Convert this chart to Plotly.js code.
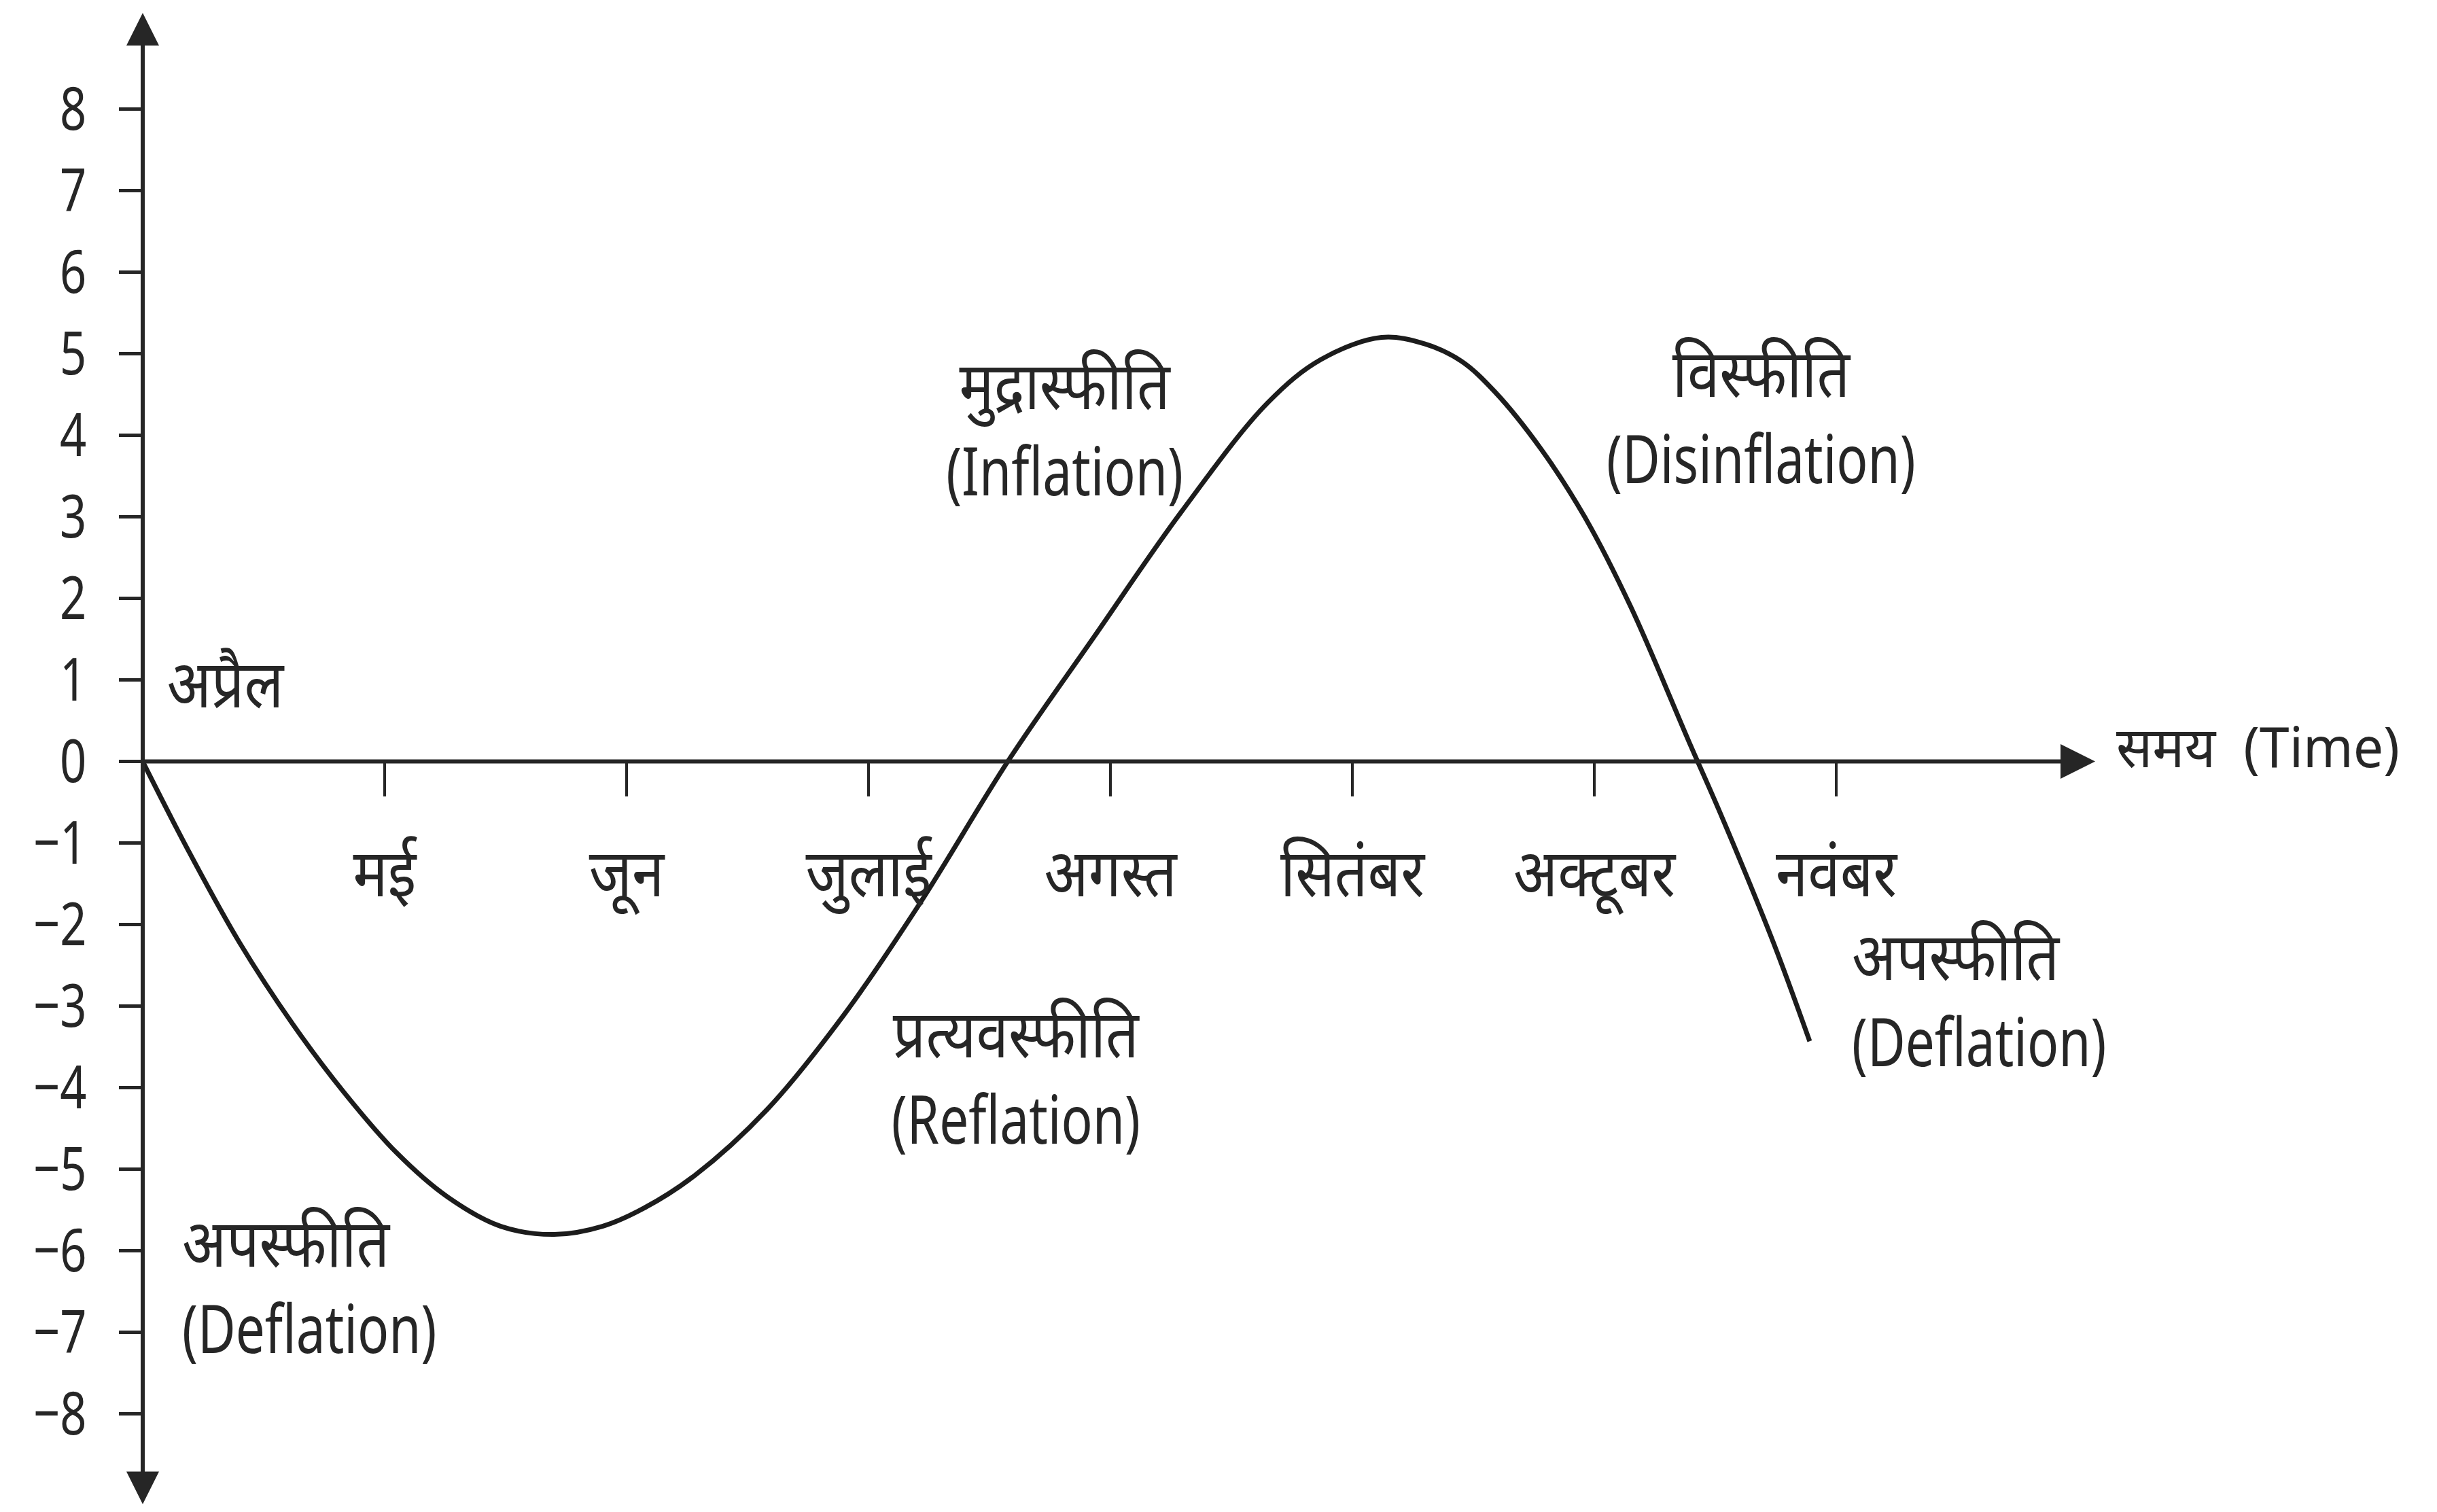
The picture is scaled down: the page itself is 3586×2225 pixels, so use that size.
<!DOCTYPE html>
<html>
<head>
<meta charset="utf-8">
<script src="https://cdn.plot.ly/plotly-3.0.1.min.js"></script>
<style>
  html, body { margin: 0; padding: 0; background: #ffffff; }
  #chart { width: 3586px; height: 2225px; }
</style>
</head>
<body>
<div id="chart"></div>
<script>
// ---- data ----
// x position in months counted from April (0 = अप्रैल, 1 = मई, ...)
const monthNames = ['मई', 'जून', 'जुलाई', 'अगस्त', 'सितंबर', 'अक्टूबर', 'नवंबर'];
const monthTicks = [1, 2, 3, 4, 5, 6, 7];
const curveMonths = [0, 0.19, 0.40, 0.62, 0.83, 1.05, 1.26, 1.48, 1.70, 1.90, 2.07, 2.28, 2.58, 2.90, 3.21, 3.58, 3.93, 4.29, 4.65, 4.87, 5.12, 5.30, 5.45, 5.59, 5.78, 5.96, 6.15, 6.39, 6.53, 6.74, 6.89];
const curveValues = [0, -1.10, -2.22, -3.22, -4.05, -4.80, -5.34, -5.70, -5.80, -5.70, -5.48, -5.08, -4.27, -3.10, -1.75, 0.02, 1.52, 3.05, 4.40, 4.93, 5.20, 5.12, 4.91, 4.53, 3.83, 3.00, 1.90, 0.25, -0.70, -2.22, -3.43];
const yTickValues = [-8, -7, -6, -5, -4, -3, -2, -1, 0, 1, 2, 3, 4, 5, 6, 7, 8];
const startLabel = 'अप्रैल';
const axisLabel = 'समय  (Time)';
const phaseHindi = ['अपस्फीति', 'प्रत्यवस्फीति', 'मुद्रास्फीति', 'विस्फीति', 'अपस्फीति'];
const phaseEnglish = ['(Deflation)', '(Reflation)', '(Inflation)', '(Disinflation)', '(Deflation)'];

// ---- layout constants ----
const xMax = 8.07;
const yMin = -9.12, yMax = 9.18;
const FONT = '"Noto Sans", "Noto Sans Devanagari", sans-serif';
const INK = '#262626';

const trace = {
  x: curveMonths,
  y: curveValues,
  type: 'scatter',
  mode: 'lines',
  line: { color: '#1c1c1c', width: 7, shape: 'spline', smoothing: 1 },
  hoverinfo: 'skip',
  showlegend: false
};

function phase(i, x, y, align, xanchor) {
  return {
    x: x, y: y, xref: 'x', yref: 'y',
    text: phaseHindi[i] + '<br>' + phaseEnglish[i],
    showarrow: false, align: align, xanchor: xanchor, yanchor: 'middle',
    font: { family: FONT, size: 98, color: INK }
  };
}

const annotations = [
  // y axis with arrows at both ends
  { x: 0, y: yMax, ax: 0, ay: yMin, xref: 'x', yref: 'y', axref: 'x', ayref: 'y',
    text: '', showarrow: true, arrowhead: 2, arrowside: 'end+start', arrowsize: 1.6,
    arrowwidth: 6, arrowcolor: INK, standoff: 0, startstandoff: 0 },
  // x axis with arrow
  { x: xMax, y: 0, ax: 0, ay: 0, xref: 'x', yref: 'y', axref: 'x', ayref: 'y',
    text: '', showarrow: true, arrowhead: 2, arrowside: 'end', arrowsize: 1.7,
    arrowwidth: 6, arrowcolor: INK, standoff: 0, startstandoff: 0 },
  { x: 0.06, y: 0.98, xref: 'x', yref: 'y', text: startLabel, showarrow: false,
    xanchor: 'left', yanchor: 'middle', font: { family: FONT, size: 98, color: INK } },
  { x: 8.12 / xMax, y: 0.2, xref: 'paper', yref: 'y', text: axisLabel, showarrow: false,
    xanchor: 'left', yanchor: 'middle', font: { family: FONT, size: 83, color: INK } },
  phase(0, 0.157, -6.41, 'left', 'left'),
  phase(1, 3.61, -3.84, 'center', 'center'),
  phase(2, 3.81, 4.11, 'center', 'center'),
  phase(3, 6.69, 4.26, 'center', 'center'),
  phase(4, 7.06, -2.89, 'left', 'left')
];

const layout = {
  width: 3586, height: 2225,
  margin: { l: 210, r: 503, t: 19, b: 10 },
  paper_bgcolor: '#ffffff', plot_bgcolor: '#ffffff',
  showlegend: false,
  xaxis: {
    range: [0, xMax], anchor: 'free', position: (0 - yMin) / (yMax - yMin),
    showline: false, showgrid: false, zeroline: false,
    tickmode: 'array', tickvals: monthTicks, ticktext: monthNames,
    ticks: 'outside', ticklen: 50, tickwidth: 4, tickcolor: INK,
    ticklabelstandoff: 30,
    tickfont: { family: FONT, size: 98, color: INK },
    fixedrange: true
  },
  yaxis: {
    range: [yMin, yMax],
    showline: false, showgrid: false, zeroline: false,
    tickmode: 'array', tickvals: yTickValues,
    ticks: 'outside', ticklen: 34, tickwidth: 5, tickcolor: INK,
    ticklabelstandoff: 30,
    tickfont: { family: FONT, size: 88, color: INK },
    fixedrange: true
  },
  annotations: annotations
};

// narrow the lettering to the condensed look of the original
function squeeze(el, f) {
  const len = el.getComputedTextLength();
  if (len > 0) {
    el.setAttribute('textLength', (len * f).toFixed(1));
    el.setAttribute('lengthAdjust', 'spacingAndGlyphs');
  }
}

Plotly.newPlot('chart', [trace], layout, { staticPlot: true, displayModeBar: false }).then(function (gd) {
  gd.querySelectorAll('text').forEach(function (t) {
    const lines = t.querySelectorAll('tspan.line');
    const targets = lines.length ? Array.from(lines) : [t];
    targets.forEach(function (el) {
      const s = el.textContent;
      if (!s.trim()) return;
      let f = /[\u0900-\u097F]/.test(s) ? 0.87 : 0.78;
      if (s.indexOf('(Time)') >= 0) f = 0.95;
      squeeze(el, f);
    });
  });
});
</script>
</body>
</html>
